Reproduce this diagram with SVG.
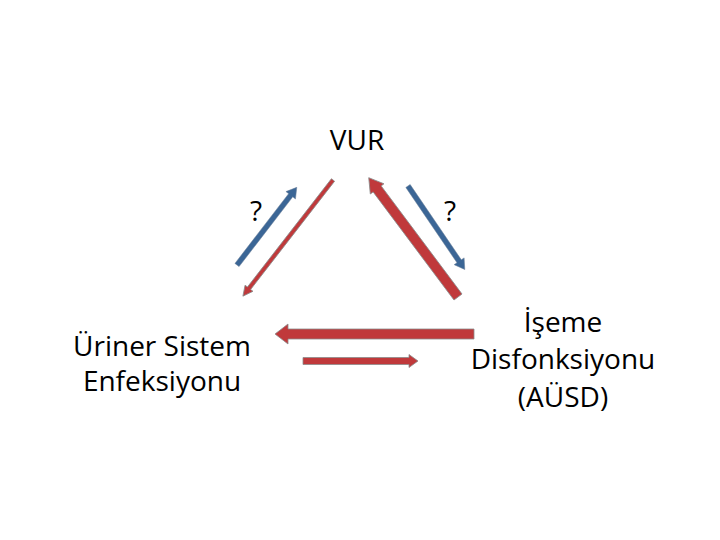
<svg xmlns="http://www.w3.org/2000/svg" width="720" height="540" viewBox="0 0 720 540">
<style>
.t{font-family:"Open Sans","Liberation Sans",Arial,sans-serif;font-size:28px;fill:#000;text-anchor:middle}
.red{fill:#C0393B;stroke:#8c8c8c;stroke-width:0.8}
.blue{fill:#3B6696;stroke:#6a7f99;stroke-width:0.5}
</style>
<rect width="720" height="540" fill="#fff"/>
<g id="vur"><text class="t" x="357" y="150">VUR</text></g>
<g id="use"><text class="t" x="162" y="356">Üriner Sistem</text><text class="t" x="162" y="391">Enfeksiyonu</text></g>
<g id="ausd"><text class="t" x="563" y="332">İşeme</text><text class="t" x="563" y="369">Disfonksiyonu</text><text class="t" x="563" y="407">(AÜSD)</text></g>
<g id="q1"><text class="t" x="256" y="221">?</text></g>
<g id="q2"><text class="t" x="450" y="221">?</text></g>
<g id="connectors">
<polygon class="blue" transform="translate(237,265) rotate(-52.4)" points="0,-2.6 88,-2.6 88,-6 98,0 88,6 88,2.6 0,2.6"/>
<polygon class="red" transform="translate(333,180) rotate(127.8)" points="0,-2 137,-2 137,-5 147,0 137,5 137,2 0,2"/>
<polygon class="red" transform="translate(458,297) rotate(233.2)" points="0,-5 135,-5 135,-8.5 149,0 135,8.5 135,5 0,5"/>
<polygon class="blue" transform="translate(408,186) rotate(55.8)" points="0,-2.6 91,-2.6 91,-6 101,0 91,6 91,2.6 0,2.6"/>
<polygon class="red" transform="translate(474,334) rotate(180)" points="0,-5 186,-5 186,-10 199,0 186,10 186,5 0,5"/>
<polygon class="red" transform="translate(303,361)" points="0,-3.5 106,-3.5 106,-6.5 115,0 106,6.5 106,3.5 0,3.5"/>
</g>
</svg>
